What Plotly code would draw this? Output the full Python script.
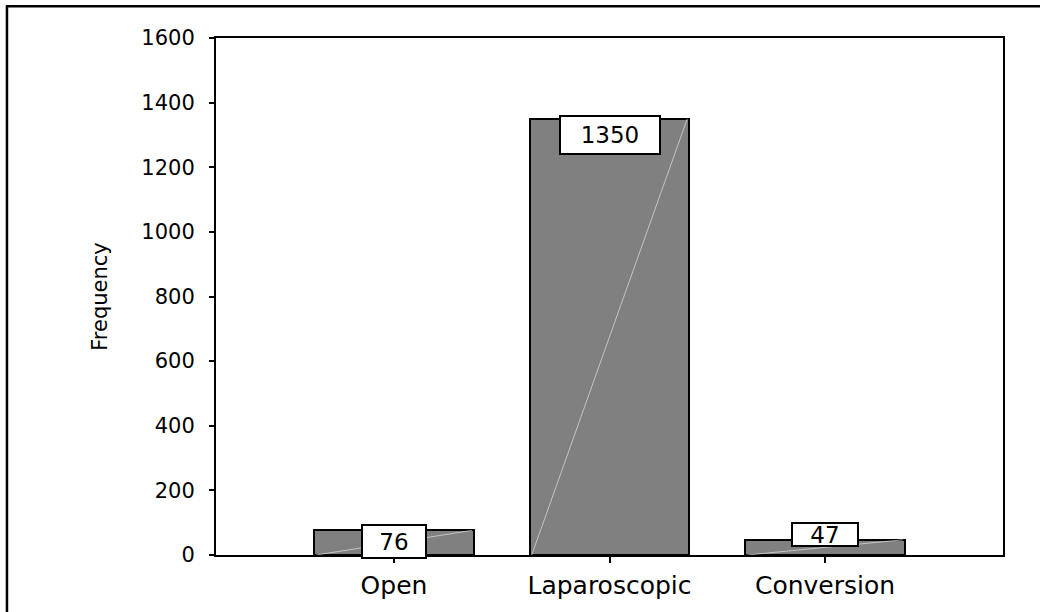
import plotly.graph_objects as go

# data
categories = ["Open", "Laparoscopic", "Conversion"]
frequency = [76, 1350, 47]
y_ticks = [0, 200, 400, 600, 800, 1000, 1200, 1400, 1600]

# label box styling (per bar)
label_shift = [-11, -16, 5]
label_w = [62, 98, 64]
label_h = [31, 36, 21]

bar_width = 0.742
FONT = "DejaVu Sans"

fig = go.Figure()

fig.add_trace(go.Bar(
    x=list(range(len(categories))),
    y=frequency,
    width=bar_width,
    marker=dict(color="#808080", line=dict(color="black", width=2)),
    showlegend=False,
    hoverinfo="skip",
))

# faint diagonal line inside each bar (bottom-left to top-right)
for i, v in enumerate(frequency):
    fig.add_trace(go.Scatter(
        x=[i - bar_width / 2 + 0.01, i + bar_width / 2 - 0.01],
        y=[0, v],
        mode="lines",
        line=dict(color="rgba(225,225,225,0.7)", width=1),
        showlegend=False,
        hoverinfo="skip",
    ))

for i, v in enumerate(frequency):
    fig.add_annotation(
        x=i, y=v, xref="x", yref="y",
        text=str(v),
        showarrow=False,
        yanchor="middle",
        yshift=label_shift[i],
        width=label_w[i], height=label_h[i],
        bgcolor="white",
        bordercolor="black", borderwidth=2, borderpad=0,
        font=dict(family=FONT, size=23, color="black"),
    )

# outer frame running off the picture
fig.add_shape(
    type="rect", xref="paper", yref="paper",
    x0=-0.2656, x1=1.2, y0=-0.2, y1=1.0614,
    line=dict(color="black", width=2.5),
    fillcolor="rgba(0,0,0,0)",
    layer="below",
)

fig.update_layout(
    width=1040, height=612,
    margin=dict(l=216, r=37, t=38, b=53),
    plot_bgcolor="white", paper_bgcolor="white",
    font=dict(family=FONT, color="black"),
    bargap=0,
)

fig.update_xaxes(
    range=[-0.826, 2.826],
    tickmode="array",
    tickvals=list(range(len(categories))),
    ticktext=categories,
    tickfont=dict(family=FONT, size=25, color="black"),
    ticks="outside", ticklen=6, tickwidth=2, tickcolor="black",
    ticklabelstandoff=1,
    showline=True, linecolor="black", linewidth=2, mirror=True,
    showgrid=False, zeroline=False,
)

fig.update_yaxes(
    range=[0, 1600],
    tickmode="array",
    tickvals=y_ticks,
    tickfont=dict(family=FONT, size=21, color="black"),
    ticks="outside", ticklen=5, tickwidth=2, tickcolor="black",
    ticklabelstandoff=10,
    showline=True, linecolor="black", linewidth=2, mirror=True,
    showgrid=False, zeroline=False,
    title=dict(text="Frequency", font=dict(family=FONT, size=21, color="black"), standoff=28),
)

fig.write_html("out.html", config={"displayModeBar": False},
               post_script="document.body.style.margin='0';")
